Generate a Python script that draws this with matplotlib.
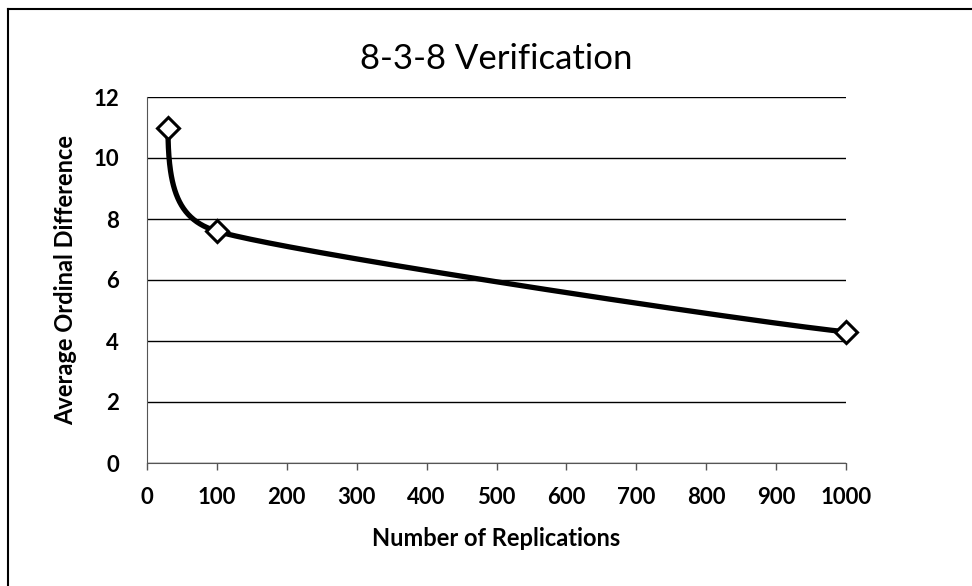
import numpy as np
import matplotlib.pyplot as plt
from matplotlib.lines import Line2D

# datos de la verificación 8-3-8
replicaciones = [30, 100, 1000]
dif_ordinal = [11.0, 7.6, 4.3]

x_ticks = [0, 100, 200, 300, 400, 500, 600, 700, 800, 900, 1000]
y_ticks = [0, 2, 4, 6, 8, 10, 12]

plt.rcParams['font.family'] = ['Lato', 'DejaVu Sans']

fig = plt.figure(figsize=(9.72, 5.86), dpi=100)
ax = fig.add_axes([147 / 972, 1 - 463 / 586, (846 - 147) / 972, (463 - 97) / 586])
ax.set_xlim(0, 1000)
ax.set_ylim(0, 12)


def bezier(p0, c1, c2, p1, n=80):
    t = np.linspace(0, 1, n)[:, None]
    return ((1 - t) ** 3) * p0 + 3 * ((1 - t) ** 2) * t * c1 + 3 * (1 - t) * t ** 2 * c2 + t ** 3 * p1


def curva_suave(xs, ys):
    # suavizado tipo hoja de cálculo, calculado en pixeles
    pts = ax.transData.transform(np.column_stack([xs, ys]))
    n = len(pts)
    tang = []
    for i in range(n):
        if i == 0:
            d = np.array([0.0, -1.0]) if pts[1][1] < pts[0][1] else pts[1] - pts[0]
        elif i == n - 1:
            d = pts[i] - pts[i - 1]
            d = np.array([d[0], d[1] * 0.6])
        else:
            d = pts[i + 1] - pts[i - 1]
        tang.append(d / np.linalg.norm(d))
    segs = []
    for i in range(n - 1):
        largo = np.linalg.norm(pts[i + 1] - pts[i])
        a1 = largo * (0.55 if i == 0 else 0.12)
        a2 = largo * (0.35 if i == 0 else 0.12)
        segs.append(bezier(pts[i], pts[i] + a1 * tang[i], pts[i + 1] - a2 * tang[i + 1], pts[i + 1]))
    curva = np.vstack(segs)
    return ax.transData.inverted().transform(curva)


curva = curva_suave(replicaciones, dif_ordinal)
ax.plot(curva[:, 0], curva[:, 1], color='black', linewidth=3.8, solid_capstyle='round', zorder=3)
ax.plot(replicaciones, dif_ordinal, linestyle='none', marker='D', markersize=11,
        markerfacecolor='white', markeredgecolor='black', markeredgewidth=2.2, zorder=4,
        clip_on=False)

ax.set_xticks(x_ticks)
ax.set_yticks(y_ticks)
ax.set_xticklabels([str(v) for v in x_ticks], fontsize=16, fontweight='bold')
ax.set_yticklabels([str(v) for v in y_ticks], fontsize=16, fontweight='bold')
ax.tick_params(axis='x', direction='out', length=5, width=1, color='#555555', pad=12)
ax.tick_params(axis='y', length=0, pad=20)

ax.grid(True, axis='y', color='black', linewidth=1)
ax.set_axisbelow(True)
for lado in ['top', 'right']:
    ax.spines[lado].set_visible(False)
ax.spines['left'].set_color('#555555')
ax.spines['bottom'].set_color('#555555')

ax.set_xlabel('Number of Replications', fontsize=17, fontweight='bold', labelpad=14)
ax.set_ylabel('Average Ordinal Difference', fontsize=17, fontweight='bold', labelpad=12)
ax.set_title('8-3-8 Verification', fontsize=25, pad=20)

# marco exterior del gráfico
fig.add_artist(Line2D([8 / 972, 8 / 972], [0, 1 - 9 / 586], color='black', linewidth=1.5))
fig.add_artist(Line2D([8 / 972, 1], [1 - 9 / 586, 1 - 9 / 586], color='black', linewidth=1.5))

fig.savefig('out.png', dpi=100)
